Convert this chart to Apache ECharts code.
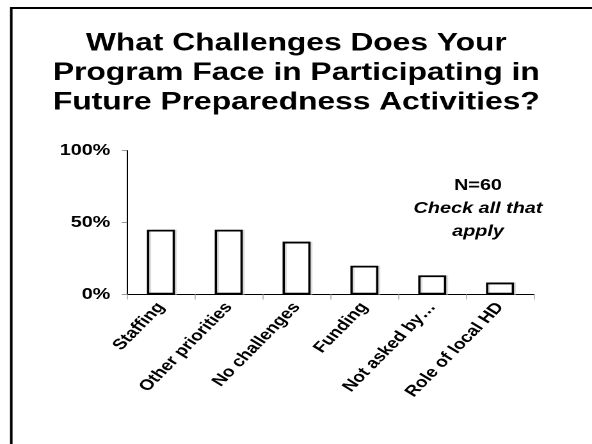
<!DOCTYPE html>
<html>
<head>
<meta charset="utf-8">
<script src="https://cdn.jsdelivr.net/npm/echarts@6/dist/echarts.min.js"></script>
<style>
html,body{margin:0;padding:0;background:#fff;overflow:hidden;width:592px;height:444px;}
#chart{width:462.5px;height:444px;transform:scaleX(1.28);transform-origin:0 0;}
</style>
</head>
<body>
<div id="chart"></div>
<script>
var categories = ['Staffing', 'Other priorities', 'No challenges', 'Funding', 'Not asked by…', 'Role of local HD'];
var values = [45, 45, 36.7, 20, 13.3, 8.3];
var yTicks = [0, 50, 100];
var titleLines = ['What Challenges Does Your', 'Program Face in Participating in', 'Future Preparedness Activities?'];
var noteLines = ['N=60', 'Check all that', 'apply'];

// The reference slide is stretched horizontally; the page is drawn narrower and widened by CSS.
var SX = 1.28;
var chart = echarts.init(document.getElementById('chart'), null, {renderer: 'canvas', devicePixelRatio: 2});
var font = 'Liberation Sans, Arial, Helvetica, sans-serif';
var noteX = 478 / SX;

chart.setOption({
  animation: false,
  backgroundColor: '#fff',
  title: {
    text: titleLines.join('\n'),
    left: 'center',
    top: 24,
    textStyle: {fontFamily: font, fontSize: 24.8, fontWeight: 'bold', color: '#000', lineHeight: 29.5}
  },
  grid: {left: 127 / SX, right: (592 - 533.3) / SX, top: 150.5, bottom: 149.5, containLabel: false},
  xAxis: {
    type: 'category',
    data: categories,
    axisLine: {lineStyle: {color: '#000', width: 1}},
    axisTick: {show: true, length: 5, lineStyle: {color: '#bbb'}},
    axisLabel: {rotate: 52, interval: 0, margin: 10, fontFamily: font, fontSize: 15, fontWeight: 'bold', color: '#000'}
  },
  yAxis: {
    type: 'value',
    min: yTicks[0],
    max: yTicks[yTicks.length - 1],
    interval: yTicks[1] - yTicks[0],
    splitLine: {show: false},
    axisLine: {show: true, lineStyle: {color: '#000', width: 1}},
    axisTick: {show: true, length: 4, lineStyle: {color: '#999'}},
    axisLabel: {formatter: '{value}%', margin: 13, fontFamily: font, fontSize: 15.5, fontWeight: 'bold', color: '#000'}
  },
  series: [{
    type: 'bar',
    data: values,
    barWidth: 28 / SX,
    itemStyle: {color: '#fff', borderColor: '#000', borderWidth: 1.8, shadowColor: '#ddd', shadowOffsetX: 1.5, shadowBlur: 0}
  }],
  graphic: [
    {type: 'line', shape: {x1: 8, y1: 8, x2: 470, y2: 8}, style: {stroke: '#000', lineWidth: 2}},
    {type: 'line', shape: {x1: 8.8, y1: 7, x2: 8.8, y2: 444}, style: {stroke: '#000', lineWidth: 2}},
    {type: 'text', x: noteX, y: 185.5, style: {text: noteLines[0], textAlign: 'center', textVerticalAlign: 'middle', font: 'bold 15.5px ' + font, fill: '#000'}},
    {type: 'text', x: noteX, y: 208.5, style: {text: noteLines[1], textAlign: 'center', textVerticalAlign: 'middle', font: 'italic bold 15.5px ' + font, fill: '#000'}},
    {type: 'text', x: noteX, y: 231.5, style: {text: noteLines[2], textAlign: 'center', textVerticalAlign: 'middle', font: 'italic bold 15.5px ' + font, fill: '#000'}}
  ]
});
</script>
</body>
</html>
